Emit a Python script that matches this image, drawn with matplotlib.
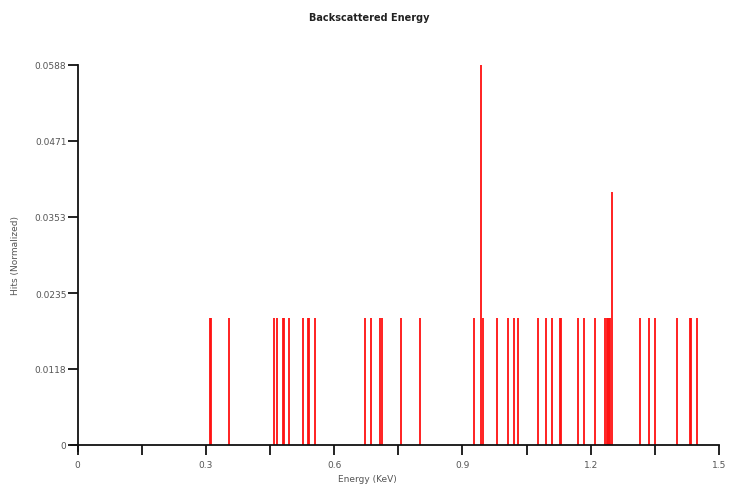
import numpy as np
import matplotlib
matplotlib.use('Agg')
from matplotlib import pyplot as plt
from matplotlib.ticker import FixedLocator

# energies of the histogram bins that got hits (KeV) and their hit counts
energy = [0.309, 0.312, 0.355, 0.459, 0.467, 0.480, 0.483, 0.494, 0.528,
          0.538, 0.541, 0.555, 0.672, 0.686, 0.708, 0.711, 0.756, 0.801,
          0.928, 0.943, 0.947, 0.980, 1.007, 1.021, 1.031, 1.077, 1.095,
          1.109, 1.127, 1.130, 1.170, 1.183, 1.210, 1.234, 1.237, 1.240,
          1.243, 1.246, 1.249, 1.315, 1.337, 1.350, 1.402, 1.431, 1.434,
          1.448]
counts = [1, 1, 1, 1, 1, 1, 1, 1, 1,
          1, 1, 1, 1, 1, 1, 1, 1, 1,
          1, 3, 1, 1, 1, 1, 1, 1, 1,
          1, 1, 1, 1, 1, 1, 1, 1, 1,
          1, 1, 2, 1, 1, 1, 1, 1, 1,
          1]
total_hits = 51
y_ticks = [0, 0.0118, 0.0235, 0.0353, 0.0471, 0.0588]
y_labels = ['0', '0.0118', '0.0235', '0.0353', '0.0471', '0.0588']
x_major = [0, 0.15, 0.3, 0.45, 0.6, 0.75, 0.9, 1.05, 1.2, 1.35, 1.5]
x_labels = {0: '0', 0.3: '0.3', 0.6: '0.6', 0.9: '0.9', 1.2: '1.2', 1.5: '1.5'}

hits = np.array(counts) / total_hits

fig = plt.figure(figsize=(7.31, 4.85), dpi=100)
ax = fig.add_axes([0.0967, 0.0685, 0.887, 0.7955])

ax.vlines(energy, 0, hits, colors='#ff1010', linewidth=1.3)

# axes cross a little past the origin, like the original
ax.set_xlim(-0.016, 1.5)
ax.set_ylim(-0.0009, 0.0588)
ax.spines['top'].set_visible(False)
ax.spines['right'].set_visible(False)
ax.spines['left'].set_position(('data', 0))
ax.spines['bottom'].set_position(('data', 0))
for s in ['left', 'bottom']:
    ax.spines[s].set_linewidth(1.3)
    ax.spines[s].set_color('#111111')

ax.xaxis.set_major_locator(FixedLocator(x_major))
ax.set_xticklabels([x_labels.get(round(v, 2), '') for v in x_major])
ax.yaxis.set_major_locator(FixedLocator(y_ticks))
ax.set_yticklabels(y_labels)
ax.tick_params(axis='both', direction='out', length=7, width=1.3,
               color='#111111', labelsize=6.5, labelcolor='#555555', pad=4)
ax.tick_params(axis='y', pad=1)

fig.text(0.503, 0.012, 'Energy (KeV)', ha='center', va='center',
         fontsize=6.5, color='#555555')
fig.text(0.021, 0.474, 'Hits (Normalized)', ha='center', va='center',
         rotation=90, fontsize=6.5, color='#555555')
fig.text(0.505, 0.962, 'Backscattered Energy', ha='center', va='center',
         fontsize=7, fontweight='bold', color='#222222')

plt.savefig('out.png', dpi=100)
